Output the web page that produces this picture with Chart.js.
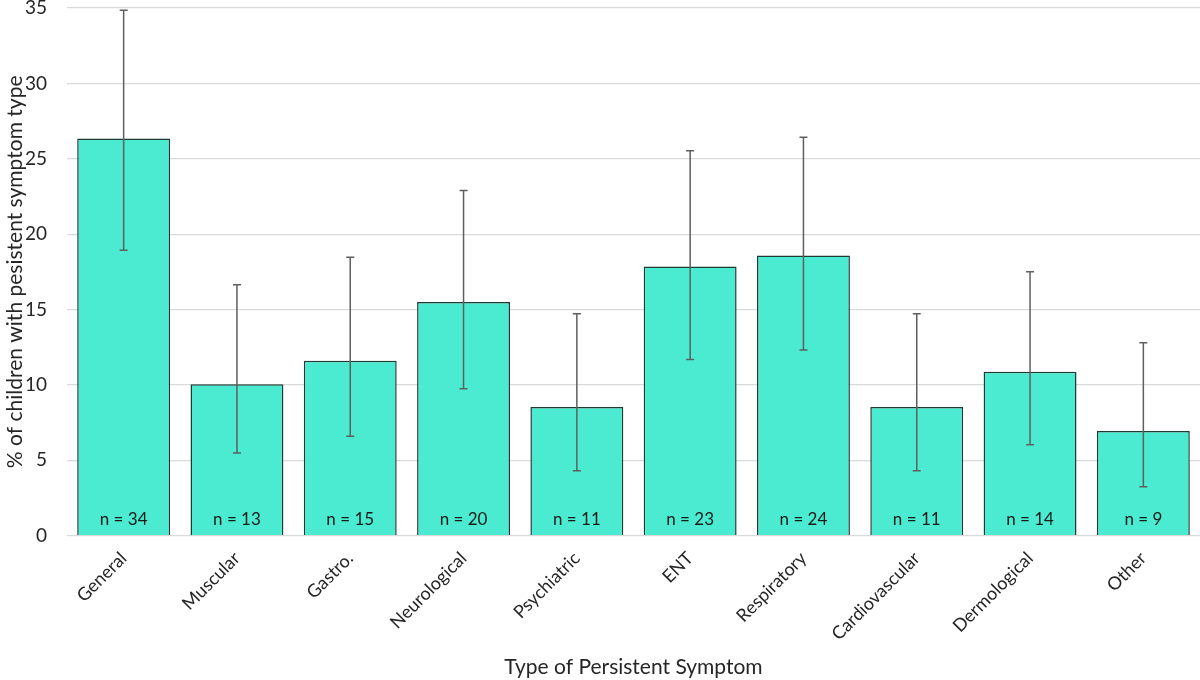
<!DOCTYPE html>
<html>
<head>
<meta charset="utf-8">
<script src="https://cdn.jsdelivr.net/npm/chart.js@4/dist/chart.umd.min.js"></script>
<style>
  html, body { margin: 0; padding: 0; background: #fff; }
  #wrap { width: 1200px; height: 680px; position: relative; }
</style>
</head>
<body>
<div id="wrap"><canvas id="chart"></canvas></div>
<script>
// данные
const categories = ['General', 'Muscular', 'Gastro.', 'Neurological', 'Psychiatric', 'ENT', 'Respiratory', 'Cardiovascular', 'Dermological', 'Other'];
const percent = [26.35, 10.05, 11.6, 15.5, 8.53, 17.85, 18.58, 8.53, 10.87, 6.95];
const errLow = [18.93, 5.48, 6.6, 9.74, 4.3, 11.69, 12.31, 4.3, 6.04, 3.24];
const errHigh = [34.85, 16.65, 18.47, 22.89, 14.72, 25.53, 26.43, 14.72, 17.51, 12.8];
const counts = [34, 13, 15, 20, 11, 23, 24, 11, 14, 9];
const yTicks = [0, 5, 10, 15, 20, 25, 30, 35];

const FONT = 'Lato, "Open Sans", sans-serif';

// усы погрешностей
const errorBars = {
  id: 'errorBars',
  afterDatasetsDraw(chart) {
    const ctx = chart.ctx;
    const x = chart.scales.x, y = chart.scales.y;
    ctx.save();
    ctx.strokeStyle = '#5f5f5f';
    ctx.lineWidth = 1.5;
    categories.forEach(function (_, i) {
      const cx = x.getPixelForValue(i);
      const top = y.getPixelForValue(errHigh[i]);
      const bot = y.getPixelForValue(errLow[i]);
      ctx.beginPath();
      ctx.moveTo(cx, top); ctx.lineTo(cx, bot);
      ctx.moveTo(cx - 4, top); ctx.lineTo(cx + 4, top);
      ctx.moveTo(cx - 4, bot); ctx.lineTo(cx + 4, bot);
      ctx.stroke();
    });
    ctx.restore();
  }
};

// подписи n = ... внизу столбцов
const countLabels = {
  id: 'countLabels',
  afterDatasetsDraw(chart) {
    const ctx = chart.ctx;
    const x = chart.scales.x, y = chart.scales.y;
    ctx.save();
    ctx.fillStyle = '#1a1a1a';
    ctx.font = '17px ' + FONT;
    ctx.textAlign = 'center';
    ctx.textBaseline = 'middle';
    counts.forEach(function (n, i) {
      ctx.fillText('n = ' + n, x.getPixelForValue(i), y.getPixelForValue(0) - 16);
    });
    ctx.restore();
  }
};

new Chart(document.getElementById('chart'), {
  type: 'bar',
  data: {
    labels: categories,
    datasets: [{
      data: percent,
      backgroundColor: '#4AEBD0',
      borderColor: '#1d3a34',
      borderWidth: 1.5,
      categoryPercentage: 0.82,
      barPercentage: 1
    }]
  },
  options: {
    responsive: true,
    maintainAspectRatio: false,
    animation: false,
    layout: { padding: { top: 8, right: 0, left: 3, bottom: 0 } },
    plugins: { legend: { display: false }, tooltip: { enabled: false } },
    scales: {
      x: {
        afterFit: function (s) { s.paddingLeft = 0; s.paddingRight = 0; },
        grid: { display: false },
        border: { color: '#d9d9d9' },
        ticks: {
          color: '#262626',
          font: { family: FONT, size: 18 },
          minRotation: 45,
          maxRotation: 45,
          padding: 4
        },
        title: {
          display: true,
          text: 'Type of Persistent Symptom',
          color: '#262626',
          font: { family: FONT, size: 21 },
          padding: { top: 6, bottom: 0 }
        }
      },
      y: {
        min: 0,
        max: 35,
        afterBuildTicks: function (axis) {
          axis.ticks = yTicks.map(function (v) { return { value: v }; });
        },
        afterFit: function (s) { s.paddingTop = 0; s.paddingBottom = 0; s.width = 64; },
        grid: { color: '#d9d9d9', lineWidth: 1.3, drawTicks: false },
        border: { display: false },
        ticks: {
          color: '#262626',
          font: { family: FONT, size: 19 },
          padding: 20
        },
        title: {
          display: true,
          text: '% of children with pesistent symptom type',
          color: '#262626',
          font: { family: FONT, size: 21 },
          padding: { top: 0, bottom: 3 }
        }
      }
    }
  },
  plugins: [errorBars, countLabels]
});
</script>
</body>
</html>
